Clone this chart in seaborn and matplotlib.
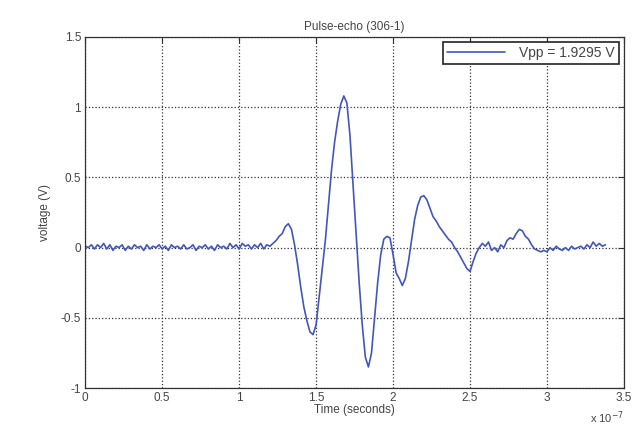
import matplotlib
matplotlib.use("Agg")
import matplotlib.pyplot as plt
import seaborn as sns
import pandas as pd

# Time axis in units of 1e-7 s
time_e7 = [
    0.00, 0.02, 0.04, 0.06, 0.08, 0.10, 0.12, 0.14, 0.16, 0.18,
    0.20, 0.22, 0.24, 0.26, 0.28, 0.30, 0.32, 0.34, 0.36, 0.38,
    0.40, 0.42, 0.44, 0.46, 0.48, 0.50, 0.52, 0.54, 0.56, 0.58,
    0.60, 0.62, 0.64, 0.66, 0.68, 0.70, 0.72, 0.74, 0.76, 0.78,
    0.80, 0.82, 0.84, 0.86, 0.88, 0.90, 0.92, 0.94, 0.96, 0.98,
    1.00, 1.02, 1.04, 1.06, 1.08, 1.10, 1.12, 1.14, 1.16, 1.18,
    1.20, 1.22, 1.24, 1.26, 1.28, 1.30, 1.32, 1.34, 1.36, 1.38,
    1.40, 1.42, 1.44, 1.46, 1.48, 1.50, 1.52, 1.54, 1.56, 1.58,
    1.60, 1.62, 1.64, 1.66, 1.68, 1.70, 1.72, 1.74, 1.76, 1.78,
    1.80, 1.82, 1.84, 1.86, 1.88, 1.90, 1.92, 1.94, 1.96, 1.98,
    2.00, 2.02, 2.04, 2.06, 2.08, 2.10, 2.12, 2.14, 2.16, 2.18,
    2.20, 2.22, 2.24, 2.26, 2.28, 2.30, 2.32, 2.34, 2.36, 2.38,
    2.40, 2.42, 2.44, 2.46, 2.48, 2.50, 2.52, 2.54, 2.56, 2.58,
    2.60, 2.62, 2.64, 2.66, 2.68, 2.70, 2.72, 2.74, 2.76, 2.78,
    2.80, 2.82, 2.84, 2.86, 2.88, 2.90, 2.92, 2.94, 2.96, 2.98,
    3.00, 3.02, 3.04, 3.06, 3.08, 3.10, 3.12, 3.14, 3.16, 3.18,
    3.20, 3.22, 3.24, 3.26, 3.28, 3.30, 3.32, 3.34, 3.36, 3.38,
]

# Voltage (V)
voltage = [
    0.01, 0.00, 0.02, -0.01, 0.02, 0.00, 0.03, -0.01, 0.02, -0.02,
    0.01, 0.00, 0.02, -0.02, 0.01, -0.01, 0.02, 0.00, 0.01, -0.02,
    0.02, -0.01, 0.01, 0.00, 0.02, -0.01, 0.01, -0.02, 0.02, 0.00,
    0.01, -0.01, 0.02, -0.01, 0.00, 0.02, -0.02, 0.01, 0.00, 0.02,
    -0.01, 0.01, -0.02, 0.02, 0.00, 0.01, -0.01, 0.03, 0.00, 0.02,
    -0.01, 0.03, 0.01, 0.02, -0.01, 0.02, 0.00, 0.03, -0.01, 0.02,
    0.01, 0.03, 0.05, 0.08, 0.10, 0.15, 0.17, 0.13, 0.02, -0.12,
    -0.28, -0.42, -0.52, -0.60, -0.62, -0.55, -0.35, -0.15, 0.05, 0.30,
    0.55, 0.75, 0.90, 1.02, 1.08, 1.03, 0.80, 0.45, 0.10, -0.25,
    -0.55, -0.78, -0.85, -0.75, -0.50, -0.25, -0.05, 0.06, 0.08, 0.07,
    -0.05, -0.18, -0.22, -0.27, -0.22, -0.10, 0.05, 0.20, 0.30, 0.36,
    0.37, 0.34, 0.28, 0.22, 0.19, 0.15, 0.12, 0.09, 0.06, 0.04,
    0.00, -0.03, -0.07, -0.11, -0.15, -0.17, -0.10, -0.04, 0.00, 0.03,
    0.01, 0.04, -0.02, 0.00, -0.03, 0.02, 0.00, 0.05, 0.07, 0.06,
    0.10, 0.13, 0.12, 0.08, 0.06, 0.02, -0.01, -0.02, -0.03, -0.02,
    -0.03, 0.00, -0.02, 0.01, -0.01, -0.02, 0.00, -0.02, 0.01, -0.01,
    0.00, 0.01, -0.01, 0.02, 0.00, 0.04, 0.01, 0.03, 0.01, 0.02,
]

x_ticks = [0, 0.5, 1, 1.5, 2, 2.5, 3, 3.5]
x_tick_labels = ["0", "0.5", "1", "1.5", "2", "2.5", "3", "3.5"]
y_ticks = [-1, -0.5, 0, 0.5, 1, 1.5]
y_tick_labels = ["-1", "-0.5", "0", "0.5", "1", "1.5"]

df = pd.DataFrame({"time": time_e7, "voltage": voltage})

sns.set_style("white")
plt.rcParams["font.family"] = ["Liberation Sans", "DejaVu Sans"]
text_col = "#444444"

fig = plt.figure(figsize=(6.36, 4.25), dpi=100)
ax = fig.add_axes([0.134, 0.087, 0.847, 0.826])

sns.lineplot(data=df, x="time", y="voltage", ax=ax, color="#4356bb",
             linewidth=1.2, label="Vpp = 1.9295 V", estimator=None)

ax.set_xlim(0, 3.5)
ax.set_ylim(-1, 1.5)
ax.set_xticks(x_ticks)
ax.set_xticklabels(x_tick_labels)
ax.set_yticks(y_ticks)
ax.set_yticklabels(y_tick_labels)
ax.grid(True, linestyle=":", color="#333333", linewidth=0.9)
ax.tick_params(direction="in", length=4, top=True, right=True,
               labelsize=8.5, labelcolor=text_col, color="#333333", pad=3)
for s in ax.spines.values():
    s.set_color("#333333")
    s.set_linewidth(0.9)

ax.set_title("Pulse-echo (306-1)", fontsize=8.5, color=text_col, pad=5)
ax.set_xlabel("Time (seconds)", fontsize=8.5, color=text_col, labelpad=0)
ax.set_ylabel("voltage (V)", fontsize=8.5, color=text_col, labelpad=7)
ax.text(1.0, -0.06, r"x 10$^{-7}$", transform=ax.transAxes, ha="right",
        va="top", fontsize=8, color=text_col)

leg = ax.legend(loc="upper right", fancybox=False, framealpha=1,
                edgecolor="#222222", fontsize=10, borderaxespad=0.35,
                handlelength=4.2, handletextpad=1.0, borderpad=0.3)
for t in leg.get_texts():
    t.set_color(text_col)
leg.get_frame().set_linewidth(1.2)

fig.savefig("out.png", dpi=100)
